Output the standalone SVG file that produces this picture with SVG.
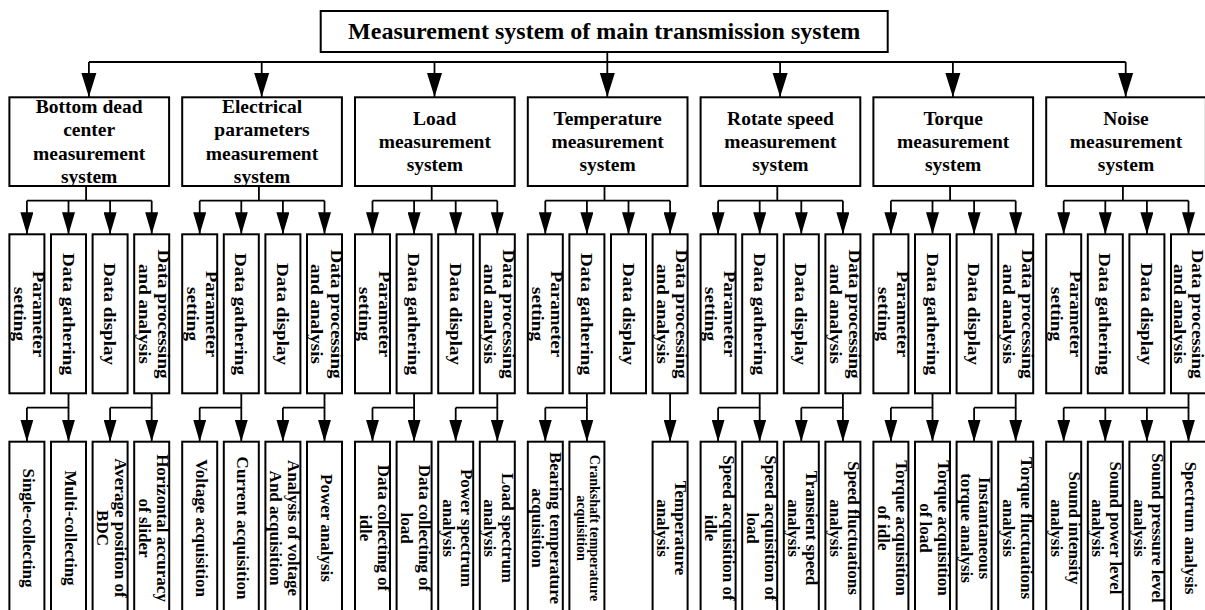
<svg xmlns="http://www.w3.org/2000/svg" width="1205" height="610" viewBox="0 0 1205 610">
<style>
.box{fill:#fff;stroke:#000;stroke-width:2}
.ln{fill:none;stroke:#000;stroke-width:1.8}
.ar1{fill:none;stroke:#000;stroke-width:1.8;marker-end:url(#a1)}
.ar2{fill:none;stroke:#000;stroke-width:1.8;marker-end:url(#a2)}
text{font-family:"Liberation Serif","Times New Roman",serif;font-weight:bold;fill:#000;text-anchor:middle}
.t1{font-size:24px}
.t2{font-size:19.5px}
.t3{font-size:19px}
.t4{font-size:17px}
.t5{font-size:14px}
</style>
<defs>
<marker id="a1" markerUnits="userSpaceOnUse" markerWidth="24" markerHeight="16" viewBox="0 0 24 16" refX="24" refY="8" orient="auto"><path d="M0,0.5 L24,8 L0,15.5 z" fill="#000"/></marker>
<marker id="a2" markerUnits="userSpaceOnUse" markerWidth="22" markerHeight="13" viewBox="0 0 22 13" refX="22" refY="6.5" orient="auto"><path d="M0,0 L22,6.5 L0,13 z" fill="#000"/></marker>
</defs>
<rect width="1205" height="610" fill="#fff"/>

<g id="connectors">
<path class="ln" d="M607.3,52 V62 M88.9,62 H1125.7"/>
<path class="ar1" d="M88.9,62 V97"/>
<path class="ar1" d="M261.7,62 V97"/>
<path class="ar1" d="M434.5,62 V97"/>
<path class="ar1" d="M607.3,62 V97"/>
<path class="ar1" d="M780.1,62 V97"/>
<path class="ar1" d="M952.9,62 V97"/>
<path class="ar1" d="M1125.7,62 V97"/>
<path class="ln" d="M86.1,186 V200.7 M26.9,200.7 H151.7"/>
<path class="ar2" d="M26.9,200.7 V234.3"/><path class="ar2" d="M68.5,200.7 V234.3"/><path class="ar2" d="M110.1,200.7 V234.3"/><path class="ar2" d="M151.7,200.7 V234.3"/>
<path class="ln" d="M258.9,186 V200.7 M199.7,200.7 H324.5"/>
<path class="ar2" d="M199.7,200.7 V234.3"/><path class="ar2" d="M241.3,200.7 V234.3"/><path class="ar2" d="M282.9,200.7 V234.3"/><path class="ar2" d="M324.5,200.7 V234.3"/>
<path class="ln" d="M431.7,186 V200.7 M372.5,200.7 H497.3"/>
<path class="ar2" d="M372.5,200.7 V234.3"/><path class="ar2" d="M414.1,200.7 V234.3"/><path class="ar2" d="M455.7,200.7 V234.3"/><path class="ar2" d="M497.3,200.7 V234.3"/>
<path class="ln" d="M604.5,186 V200.7 M545.3,200.7 H670.1"/>
<path class="ar2" d="M545.3,200.7 V234.3"/><path class="ar2" d="M586.9,200.7 V234.3"/><path class="ar2" d="M628.5,200.7 V234.3"/><path class="ar2" d="M670.1,200.7 V234.3"/>
<path class="ln" d="M777.3,186 V200.7 M718.1,200.7 H842.9"/>
<path class="ar2" d="M718.1,200.7 V234.3"/><path class="ar2" d="M759.7,200.7 V234.3"/><path class="ar2" d="M801.3,200.7 V234.3"/><path class="ar2" d="M842.9,200.7 V234.3"/>
<path class="ln" d="M950.1,186 V200.7 M890.9,200.7 H1015.7"/>
<path class="ar2" d="M890.9,200.7 V234.3"/><path class="ar2" d="M932.5,200.7 V234.3"/><path class="ar2" d="M974.1,200.7 V234.3"/><path class="ar2" d="M1015.7,200.7 V234.3"/>
<path class="ln" d="M1122.9,186 V200.7 M1063.7,200.7 H1188.5"/>
<path class="ar2" d="M1063.7,200.7 V234.3"/><path class="ar2" d="M1105.3,200.7 V234.3"/><path class="ar2" d="M1146.9,200.7 V234.3"/><path class="ar2" d="M1188.5,200.7 V234.3"/>
<path class="ln" d="M68.5,393.3 V407.7 H26.9 M151.7,393.3 V407.7 H110.1"/>
<path class="ar2" d="M26.9,407.7 V441.7"/><path class="ar2" d="M68.5,407.7 V441.7"/><path class="ar2" d="M110.1,407.7 V441.7"/><path class="ar2" d="M151.7,407.7 V441.7"/>
<path class="ln" d="M241.3,393.3 V407.7 H199.7 M324.5,393.3 V407.7 H282.9"/>
<path class="ar2" d="M199.7,407.7 V441.7"/><path class="ar2" d="M241.3,407.7 V441.7"/><path class="ar2" d="M282.9,407.7 V441.7"/><path class="ar2" d="M324.5,407.7 V441.7"/>
<path class="ln" d="M414.1,393.3 V407.7 H372.5 M497.3,393.3 V407.7 H455.7"/>
<path class="ar2" d="M372.5,407.7 V441.7"/><path class="ar2" d="M414.1,407.7 V441.7"/><path class="ar2" d="M455.7,407.7 V441.7"/><path class="ar2" d="M497.3,407.7 V441.7"/>
<path class="ln" d="M586.9,393.3 V407.7 H545.3"/>
<path class="ar2" d="M545.3,407.7 V441.7"/><path class="ar2" d="M586.9,407.7 V441.7"/><path class="ar2" d="M670.1,393.3 V441.7"/>
<path class="ln" d="M759.7,393.3 V407.7 H718.1 M842.9,393.3 V407.7 H801.3"/>
<path class="ar2" d="M718.1,407.7 V441.7"/><path class="ar2" d="M759.7,407.7 V441.7"/><path class="ar2" d="M801.3,407.7 V441.7"/><path class="ar2" d="M842.9,407.7 V441.7"/>
<path class="ln" d="M932.5,393.3 V407.7 H890.9 M1015.7,393.3 V407.7 H974.1"/>
<path class="ar2" d="M890.9,407.7 V441.7"/><path class="ar2" d="M932.5,407.7 V441.7"/><path class="ar2" d="M974.1,407.7 V441.7"/><path class="ar2" d="M1015.7,407.7 V441.7"/>
<path class="ln" d="M1188.5,393.3 V407.7 H1063.7"/>
<path class="ar2" d="M1063.7,407.7 V441.7"/><path class="ar2" d="M1105.3,407.7 V441.7"/><path class="ar2" d="M1146.9,407.7 V441.7"/><path class="ar2" d="M1188.5,407.7 V441.7"/>
</g>

<g id="title"><rect class="box" x="320.7" y="11" width="567" height="41"/><text class="t1" x="604.2" y="39">Measurement system of main transmission system</text></g>

<g id="bdc"><rect class="box" x="9.4" y="97.3" width="159.7" height="88.7"/><text class="t2"><tspan x="89.2" y="113.3">Bottom dead</tspan><tspan x="89.2" y="136.4">center</tspan><tspan x="89.2" y="159.5">measurement</tspan><tspan x="89.2" y="182.6">system</tspan></text></g>
<g id="elec"><rect class="box" x="182.2" y="97.3" width="159.7" height="88.7"/><text class="t2"><tspan x="262" y="113.3">Electrical</tspan><tspan x="262" y="136.4">parameters</tspan><tspan x="262" y="159.5">measurement</tspan><tspan x="262" y="182.6">system</tspan></text></g>
<g id="load"><rect class="box" x="355" y="97.3" width="159.7" height="88.7"/><text class="t2"><tspan x="434.8" y="125">Load</tspan><tspan x="434.8" y="148">measurement</tspan><tspan x="434.8" y="171">system</tspan></text></g>
<g id="temp"><rect class="box" x="527.8" y="97.3" width="159.7" height="88.7"/><text class="t2"><tspan x="607.6" y="125">Temperature</tspan><tspan x="607.6" y="148">measurement</tspan><tspan x="607.6" y="171">system</tspan></text></g>
<g id="speed"><rect class="box" x="700.6" y="97.3" width="159.7" height="88.7"/><text class="t2"><tspan x="780.4" y="125">Rotate speed</tspan><tspan x="780.4" y="148">measurement</tspan><tspan x="780.4" y="171">system</tspan></text></g>
<g id="torque"><rect class="box" x="873.4" y="97.3" width="159.7" height="88.7"/><text class="t2"><tspan x="953.2" y="125">Torque</tspan><tspan x="953.2" y="148">measurement</tspan><tspan x="953.2" y="171">system</tspan></text></g>
<g id="noise"><rect class="box" x="1046.2" y="97.3" width="159.7" height="88.7"/><text class="t2"><tspan x="1126" y="125">Noise</tspan><tspan x="1126" y="148">measurement</tspan><tspan x="1126" y="171">system</tspan></text></g>

<g id="g1-param"><rect class="box" x="9.4" y="234.3" width="35" height="159"/><text class="t3" transform="translate(32.9,314) rotate(90) scale(1,0.92)"><tspan x="0" y="0">Parameter</tspan><tspan x="0" y="20.7">setting</tspan></text></g>
<g id="g1-gather"><rect class="box" x="51" y="234.3" width="35" height="159"/><text class="t3" transform="translate(62.5,314) rotate(90) scale(1,0.92)">Data gathering</text></g>
<g id="g1-display"><rect class="box" x="92.6" y="234.3" width="35" height="159"/><text class="t3" transform="translate(104.1,314) rotate(90) scale(1,0.92)">Data display</text></g>
<g id="g1-proc"><rect class="box" x="134.2" y="234.3" width="35" height="159"/><text class="t3" transform="translate(157.7,314) rotate(90) scale(1,0.92)"><tspan x="0" y="0">Data processing</tspan><tspan x="0" y="20.7">and analysis</tspan></text></g>

<g id="g2-param"><rect class="box" x="182.2" y="234.3" width="35" height="159"/><text class="t3" transform="translate(205.7,314) rotate(90) scale(1,0.92)"><tspan x="0" y="0">Parameter</tspan><tspan x="0" y="20.7">setting</tspan></text></g>
<g id="g2-gather"><rect class="box" x="223.8" y="234.3" width="35" height="159"/><text class="t3" transform="translate(235.3,314) rotate(90) scale(1,0.92)">Data gathering</text></g>
<g id="g2-display"><rect class="box" x="265.4" y="234.3" width="35" height="159"/><text class="t3" transform="translate(276.9,314) rotate(90) scale(1,0.92)">Data display</text></g>
<g id="g2-proc"><rect class="box" x="307" y="234.3" width="35" height="159"/><text class="t3" transform="translate(330.5,314) rotate(90) scale(1,0.92)"><tspan x="0" y="0">Data processing</tspan><tspan x="0" y="20.7">and analysis</tspan></text></g>

<g id="g3-param"><rect class="box" x="355" y="234.3" width="35" height="159"/><text class="t3" transform="translate(378.5,314) rotate(90) scale(1,0.92)"><tspan x="0" y="0">Parameter</tspan><tspan x="0" y="20.7">setting</tspan></text></g>
<g id="g3-gather"><rect class="box" x="396.6" y="234.3" width="35" height="159"/><text class="t3" transform="translate(408.1,314) rotate(90) scale(1,0.92)">Data gathering</text></g>
<g id="g3-display"><rect class="box" x="438.2" y="234.3" width="35" height="159"/><text class="t3" transform="translate(449.7,314) rotate(90) scale(1,0.92)">Data display</text></g>
<g id="g3-proc"><rect class="box" x="479.8" y="234.3" width="35" height="159"/><text class="t3" transform="translate(503.3,314) rotate(90) scale(1,0.92)"><tspan x="0" y="0">Data processing</tspan><tspan x="0" y="20.7">and analysis</tspan></text></g>

<g id="g4-param"><rect class="box" x="527.8" y="234.3" width="35" height="159"/><text class="t3" transform="translate(551.3,314) rotate(90) scale(1,0.92)"><tspan x="0" y="0">Parameter</tspan><tspan x="0" y="20.7">setting</tspan></text></g>
<g id="g4-gather"><rect class="box" x="569.4" y="234.3" width="35" height="159"/><text class="t3" transform="translate(580.9,314) rotate(90) scale(1,0.92)">Data gathering</text></g>
<g id="g4-display"><rect class="box" x="611" y="234.3" width="35" height="159"/><text class="t3" transform="translate(622.5,314) rotate(90) scale(1,0.92)">Data display</text></g>
<g id="g4-proc"><rect class="box" x="652.6" y="234.3" width="35" height="159"/><text class="t3" transform="translate(676.1,314) rotate(90) scale(1,0.92)"><tspan x="0" y="0">Data processing</tspan><tspan x="0" y="20.7">and analysis</tspan></text></g>

<g id="g5-param"><rect class="box" x="700.6" y="234.3" width="35" height="159"/><text class="t3" transform="translate(724.1,314) rotate(90) scale(1,0.92)"><tspan x="0" y="0">Parameter</tspan><tspan x="0" y="20.7">setting</tspan></text></g>
<g id="g5-gather"><rect class="box" x="742.2" y="234.3" width="35" height="159"/><text class="t3" transform="translate(753.7,314) rotate(90) scale(1,0.92)">Data gathering</text></g>
<g id="g5-display"><rect class="box" x="783.8" y="234.3" width="35" height="159"/><text class="t3" transform="translate(795.3,314) rotate(90) scale(1,0.92)">Data display</text></g>
<g id="g5-proc"><rect class="box" x="825.4" y="234.3" width="35" height="159"/><text class="t3" transform="translate(848.9,314) rotate(90) scale(1,0.92)"><tspan x="0" y="0">Data processing</tspan><tspan x="0" y="20.7">and analysis</tspan></text></g>

<g id="g6-param"><rect class="box" x="873.4" y="234.3" width="35" height="159"/><text class="t3" transform="translate(896.9,314) rotate(90) scale(1,0.92)"><tspan x="0" y="0">Parameter</tspan><tspan x="0" y="20.7">setting</tspan></text></g>
<g id="g6-gather"><rect class="box" x="915" y="234.3" width="35" height="159"/><text class="t3" transform="translate(926.5,314) rotate(90) scale(1,0.92)">Data gathering</text></g>
<g id="g6-display"><rect class="box" x="956.6" y="234.3" width="35" height="159"/><text class="t3" transform="translate(968.1,314) rotate(90) scale(1,0.92)">Data display</text></g>
<g id="g6-proc"><rect class="box" x="998.2" y="234.3" width="35" height="159"/><text class="t3" transform="translate(1021.7,314) rotate(90) scale(1,0.92)"><tspan x="0" y="0">Data processing</tspan><tspan x="0" y="20.7">and analysis</tspan></text></g>

<g id="g7-param"><rect class="box" x="1046.2" y="234.3" width="35" height="159"/><text class="t3" transform="translate(1069.7,314) rotate(90) scale(1,0.92)"><tspan x="0" y="0">Parameter</tspan><tspan x="0" y="20.7">setting</tspan></text></g>
<g id="g7-gather"><rect class="box" x="1087.8" y="234.3" width="35" height="159"/><text class="t3" transform="translate(1099.3,314) rotate(90) scale(1,0.92)">Data gathering</text></g>
<g id="g7-display"><rect class="box" x="1129.4" y="234.3" width="35" height="159"/><text class="t3" transform="translate(1140.9,314) rotate(90) scale(1,0.92)">Data display</text></g>
<g id="g7-proc"><rect class="box" x="1171" y="234.3" width="35" height="159"/><text class="t3" transform="translate(1191.5,314) rotate(90) scale(1,0.92)"><tspan x="0" y="0">Data processing</tspan><tspan x="0" y="19.5">and analysis</tspan></text></g>

<g id="g1-single"><rect class="box" x="9.4" y="441.7" width="35" height="180"/><text class="t4" transform="translate(22.9,528) rotate(90)">Single-collecting</text></g>
<g id="g1-multi"><rect class="box" x="51" y="441.7" width="35" height="180"/><text class="t4" transform="translate(64.5,528) rotate(90)">Multi-collecting</text></g>
<g id="g1-avg"><rect class="box" x="92.6" y="441.7" width="35" height="180"/><text class="t4" transform="translate(115.1,528) rotate(90)"><tspan x="0" y="0">Average position of</tspan><tspan x="0" y="18">BDC</tspan></text></g>
<g id="g1-horiz"><rect class="box" x="134.2" y="441.7" width="35" height="180"/><text class="t4" transform="translate(156.7,528) rotate(90)"><tspan x="0" y="0">Horizontal accuracy</tspan><tspan x="0" y="18">of slider</tspan></text></g>

<g id="g2-volt"><rect class="box" x="182.2" y="441.7" width="35" height="180"/><text class="t4" transform="translate(195.7,528) rotate(90)">Voltage acquisition</text></g>
<g id="g2-curr"><rect class="box" x="223.8" y="441.7" width="35" height="180"/><text class="t4" transform="translate(237.3,528) rotate(90)">Current acquisition</text></g>
<g id="g2-anal"><rect class="box" x="265.4" y="441.7" width="35" height="180"/><text class="t4" transform="translate(287.9,528) rotate(90)"><tspan x="0" y="0">Analysis of voltage</tspan><tspan x="0" y="18">And acquisition</tspan></text></g>
<g id="g2-power"><rect class="box" x="307" y="441.7" width="35" height="180"/><text class="t4" transform="translate(320.5,528) rotate(90)">Power analysis</text></g>

<g id="g3-idle"><rect class="box" x="355" y="441.7" width="35" height="180"/><text class="t4" transform="translate(377.5,528) rotate(90)"><tspan x="0" y="0">Data collecting of</tspan><tspan x="0" y="18">idle</tspan></text></g>
<g id="g3-load"><rect class="box" x="396.6" y="441.7" width="35" height="180"/><text class="t4" transform="translate(419.1,528) rotate(90)"><tspan x="0" y="0">Data collecting of</tspan><tspan x="0" y="18">load</tspan></text></g>
<g id="g3-pspec"><rect class="box" x="438.2" y="441.7" width="35" height="180"/><text class="t4" transform="translate(460.7,528) rotate(90)"><tspan x="0" y="0">Power spectrum</tspan><tspan x="0" y="18">analysis</tspan></text></g>
<g id="g3-lspec"><rect class="box" x="479.8" y="441.7" width="35" height="180"/><text class="t4" transform="translate(502.3,528) rotate(90)"><tspan x="0" y="0">Load spectrum</tspan><tspan x="0" y="18">analysis</tspan></text></g>

<g id="g4-bearing"><rect class="box" x="527.8" y="441.7" width="35" height="180"/><text class="t4" transform="translate(550.3,528) rotate(90)"><tspan x="0" y="0">Bearing temperature</tspan><tspan x="0" y="18">acquisition</tspan></text></g>
<g id="g4-crank"><rect class="box" x="569.4" y="441.7" width="35" height="180"/><text class="t5" transform="translate(590.4,528) rotate(90)"><tspan x="0" y="0">Crankshaft temperature</tspan><tspan x="0" y="13.5">acquisition</tspan></text></g>
<g id="g4-tanal"><rect class="box" x="652.6" y="441.7" width="35" height="180"/><text class="t4" transform="translate(675.1,528) rotate(90)"><tspan x="0" y="0">Temperature</tspan><tspan x="0" y="18">analysis</tspan></text></g>

<g id="g5-idle"><rect class="box" x="700.6" y="441.7" width="35" height="180"/><text class="t4" transform="translate(723.1,528) rotate(90)"><tspan x="0" y="0">Speed acquisition of</tspan><tspan x="0" y="18">idle</tspan></text></g>
<g id="g5-load"><rect class="box" x="742.2" y="441.7" width="35" height="180"/><text class="t4" transform="translate(764.7,528) rotate(90)"><tspan x="0" y="0">Speed acquisition of</tspan><tspan x="0" y="18">load</tspan></text></g>
<g id="g5-trans"><rect class="box" x="783.8" y="441.7" width="35" height="180"/><text class="t4" transform="translate(806.3,528) rotate(90)"><tspan x="0" y="0">Transient speed</tspan><tspan x="0" y="18">analysis</tspan></text></g>
<g id="g5-fluct"><rect class="box" x="825.4" y="441.7" width="35" height="180"/><text class="t4" transform="translate(847.9,528) rotate(90)"><tspan x="0" y="0">Speed fluctuations</tspan><tspan x="0" y="18">analysis</tspan></text></g>

<g id="g6-idle"><rect class="box" x="873.4" y="441.7" width="35" height="180"/><text class="t4" transform="translate(895.9,528) rotate(90)"><tspan x="0" y="0">Torque acquisition</tspan><tspan x="0" y="18">of idle</tspan></text></g>
<g id="g6-load"><rect class="box" x="915" y="441.7" width="35" height="180"/><text class="t4" transform="translate(937.5,528) rotate(90)"><tspan x="0" y="0">Torque acquisition</tspan><tspan x="0" y="18">of load</tspan></text></g>
<g id="g6-inst"><rect class="box" x="956.6" y="441.7" width="35" height="180"/><text class="t4" transform="translate(979.1,528) rotate(90)"><tspan x="0" y="0">Instantaneous</tspan><tspan x="0" y="18">torque analysis</tspan></text></g>
<g id="g6-fluct"><rect class="box" x="998.2" y="441.7" width="35" height="180"/><text class="t4" transform="translate(1020.7,528) rotate(90)"><tspan x="0" y="0">Torque fluctuations</tspan><tspan x="0" y="18">analysis</tspan></text></g>

<g id="g7-int"><rect class="box" x="1046.2" y="441.7" width="35" height="180"/><text class="t4" transform="translate(1068.7,528) rotate(90)"><tspan x="0" y="0">Sound intensity</tspan><tspan x="0" y="18">analysis</tspan></text></g>
<g id="g7-power"><rect class="box" x="1087.8" y="441.7" width="35" height="180"/><text class="t4" transform="translate(1110.3,528) rotate(90)"><tspan x="0" y="0">Sound power level</tspan><tspan x="0" y="18">analysis</tspan></text></g>
<g id="g7-press"><rect class="box" x="1129.4" y="441.7" width="35" height="180"/><text class="t4" transform="translate(1151.9,528) rotate(90)"><tspan x="0" y="0">Sound pressure level</tspan><tspan x="0" y="18">analysis</tspan></text></g>
<g id="g7-spec"><rect class="box" x="1171" y="441.7" width="35" height="180"/><text class="t4" transform="translate(1184.5,528) rotate(90)">Spectrum analysis</text></g>
</svg>
